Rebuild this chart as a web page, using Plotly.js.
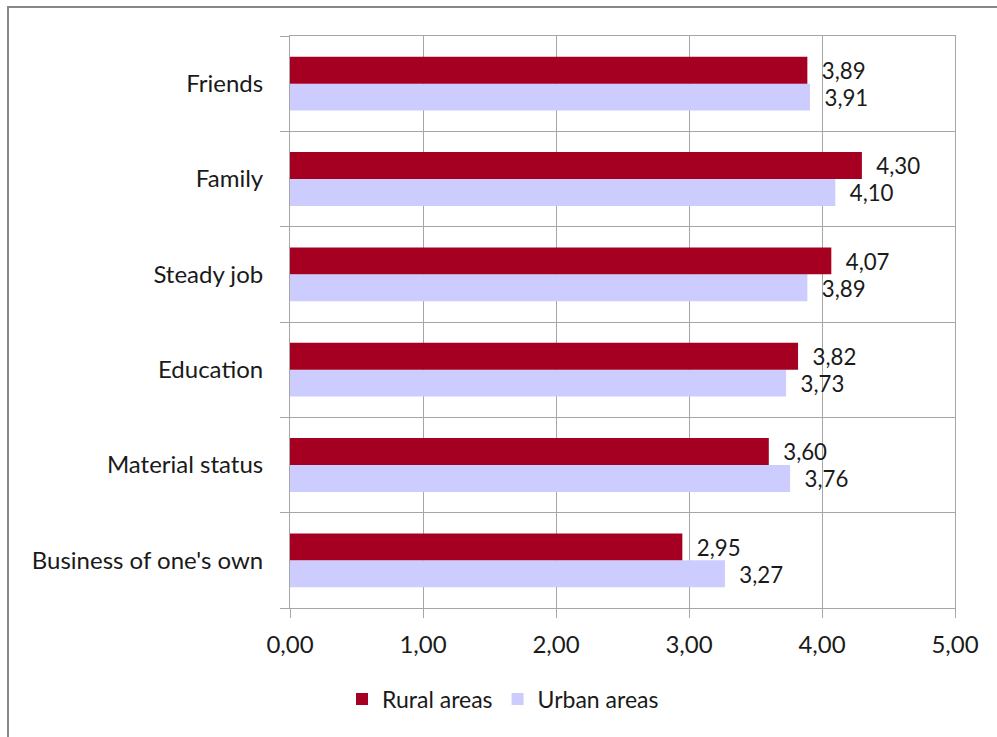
<!DOCTYPE html>
<html>
<head>
<meta charset="utf-8">
<script src="https://cdn.plot.ly/plotly-3.0.1.min.js"></script>
<style>html,body{margin:0;padding:0;background:#fff;}#chart{width:997px;height:737px;}</style>
</head>
<body>
<div id="chart"></div>
<script>
// Categories listed bottom to top
const categories = ["Business of one's own", "Material status", "Education", "Steady job", "Family", "Friends"];
const rural = [2.95, 3.60, 3.82, 4.07, 4.30, 3.89];
const urban = [3.27, 3.76, 3.73, 3.89, 4.10, 3.91];
const xTicks = [0, 1, 2, 3, 4, 5];

const W = 997, H = 737;
const M = {l: 290, r: 42, t: 36, b: 129};
const pw = W - M.l - M.r, ph = H - M.t - M.b;
const px = x => (x - M.l) / pw;
const py = y => (H - M.b - y) / ph;

const font = "Lato, 'Open Sans', sans-serif";
const FS = 24;
const common = {
  type: 'bar', orientation: 'h', y: categories,
  textposition: 'outside', cliponaxis: false,
  textfont: {family: font, size: FS, color: '#1a1a1a'},
  hoverinfo: 'skip'
};
const data = [
  Object.assign({}, common, {name: 'Urban areas', x: urban, marker: {color: '#CCCCFF'},
    text: urban.map(v => '  ' + v.toFixed(2).replace('.', ','))}),
  Object.assign({}, common, {name: 'Rural areas', x: rural, marker: {color: '#A50021'},
    text: rural.map(v => '  ' + v.toFixed(2).replace('.', ','))})
];

const layout = {
  width: W, height: H,
  margin: M,
  paper_bgcolor: '#fff', plot_bgcolor: '#fff',
  separators: ', ',
  barmode: 'group', bargap: 0.435, bargroupgap: 0,
  font: {family: font, size: FS, color: '#1a1a1a'},
  showlegend: true,
  legend: {orientation: 'h', traceorder: 'reversed', x: px(503), xanchor: 'center', y: py(699), yanchor: 'middle',
    font: {family: font, size: 23, color: '#1a1a1a'}, itemwidth: 30, tracegroupgap: 0},
  xaxis: {
    range: [0, 5], tickvals: xTicks, tickformat: '.2f',
    showgrid: true, gridcolor: '#A6A6A6', gridwidth: 1,
    showline: true, linecolor: '#A6A6A6', linewidth: 1, mirror: true,
    ticks: 'outside', ticklen: 9, tickcolor: '#A6A6A6',
    ticklabelstandoff: 6,
    zeroline: false, fixedrange: true,
    tickfont: {family: font, size: FS, color: '#1a1a1a'}
  },
  yaxis: {
    type: 'category', categoryorder: 'array', categoryarray: categories,
    tickson: 'boundaries', showgrid: true, gridcolor: '#A6A6A6', gridwidth: 1,
    showline: true, linecolor: '#A6A6A6', linewidth: 1, mirror: true,
    ticks: 'outside', ticklen: 9, tickcolor: '#A6A6A6',
    ticklabelstandoff: 21,
    tickfont: {family: font, size: FS, color: '#1a1a1a'}, fixedrange: true
  },
  shapes: [{type: 'rect', xref: 'paper', yref: 'paper',
    x0: px(8), x1: px(1010), y0: py(760), y1: py(7),
    line: {color: '#878787', width: 2}, fillcolor: 'rgba(0,0,0,0)', layer: 'below'}]
};
Plotly.newPlot('chart', data, layout, {displayModeBar: false, staticPlot: true});
</script>
</body>
</html>
